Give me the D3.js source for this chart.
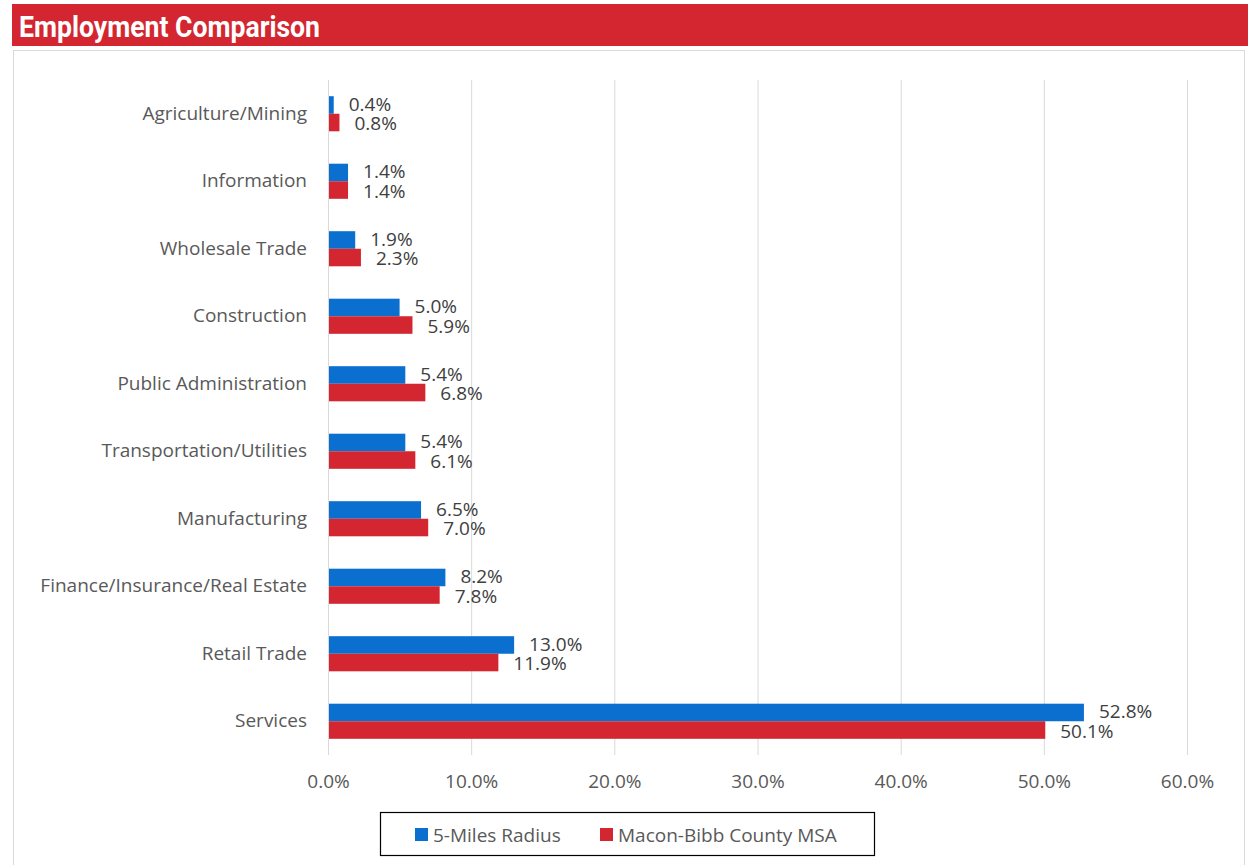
<!DOCTYPE html>
<html><head><meta charset="utf-8">
<script src="https://cdn.jsdelivr.net/npm/d3@7"></script>
<style>body{margin:0;background:#fff;}svg{display:block;}</style>
</head><body>
<svg id="c" width="1248" height="865"></svg>
<script>
const categories = ["Agriculture/Mining","Information","Wholesale Trade","Construction","Public Administration","Transportation/Utilities","Manufacturing","Finance/Insurance/Real Estate","Retail Trade","Services"];
const radius5 = [0.4,1.4,1.9,5.0,5.4,5.4,6.5,8.2,13.0,52.8];
const maconMSA = [0.8,1.4,2.3,5.9,6.8,6.1,7.0,7.8,11.9,50.1];
const seriesNames = ["5-Miles Radius","Macon-Bibb County MSA"];
const xTicks = [0,10,20,30,40,50,60];
const colors = ["#0A6FCF","#D32630"];

const svg = d3.select("#c");
const font = "'Open Sans', sans-serif";
const fs = 19;

// title bar
svg.append("rect").attr("x",12).attr("y",4).attr("width",1236).attr("height",42).attr("fill","#D32630");
svg.append("text").attr("x",19).attr("y",37).attr("fill","#fff")
  .attr("font-family","Roboto, sans-serif").attr("font-weight","bold").attr("font-size",30)
  .attr("textLength",301).attr("lengthAdjust","spacingAndGlyphs")
  .text("Employment Comparison");

// chart frame
svg.append("rect").attr("x",13.5).attr("y",50.5).attr("width",1231).attr("height",820)
  .attr("fill","none").attr("stroke","#d9d9d9").attr("stroke-width",1);

const x = d3.scaleLinear().domain([0,60]).range([328,1187]);
const y = d3.scaleBand().domain(categories).range([80,755]).paddingInner(0.48).paddingOuter(0.24);
const sub = d3.scaleBand().domain([0,1]).range([0,y.bandwidth()]);

// gridlines
svg.append("g").selectAll("line").data(xTicks).join("line")
  .attr("x1",d=>x(d)+0.5).attr("x2",d=>x(d)+0.5).attr("y1",80).attr("y2",755)
  .attr("stroke","#d9d9d9").attr("stroke-width",1);

// x axis labels
const xAxis = d3.axisBottom(x).tickValues(xTicks).tickFormat(d=>d.toFixed(1)+"%").tickSize(0).tickPadding(0);
const gx = svg.append("g").attr("transform","translate(0,771)").call(xAxis);
gx.select(".domain").remove();
gx.selectAll("text").attr("font-family",font).attr("font-size",fs).attr("fill","#595959").attr("dy","0.9em");

// y axis labels
const yAxis = d3.axisLeft(y).tickSize(0).tickPadding(21);
const gy = svg.append("g").attr("transform","translate(328,0)").call(yAxis);
gy.select(".domain").remove();
gy.selectAll("text").attr("font-family",font).attr("font-size",fs).attr("fill","#595959");

const series = [radius5, maconMSA];
series.forEach((vals,si)=>{
  const g = svg.append("g");
  g.selectAll("rect").data(vals).join("rect")
    .attr("x",x(0)).attr("y",(d,i)=>y(categories[i])+sub(si))
    .attr("width",d=>x(d)-x(0)).attr("height",sub.bandwidth())
    .attr("fill",colors[si]);
  g.selectAll("text").data(vals).join("text")
    .attr("x",d=>x(d)+15).attr("y",(d,i)=>y(categories[i])+sub(si)+sub.bandwidth()/2+(si?1:-1))
    .attr("dy","0.35em").attr("font-family",font).attr("font-size",fs).attr("fill","#404040")
    .text(d=>d.toFixed(1)+"%");
});

// vertical axis line at 0
svg.append("line").attr("x1",x(0)+0.5).attr("x2",x(0)+0.5).attr("y1",80).attr("y2",755).attr("stroke","#d9d9d9");

// legend
svg.append("rect").attr("x",380.5).attr("y",812.5).attr("width",494).attr("height",43)
  .attr("fill","#fff").attr("stroke","#000").attr("stroke-width",1.2);
const legX = [415,600];
seriesNames.forEach((n,i)=>{
  svg.append("rect").attr("x",legX[i]).attr("y",828).attr("width",13).attr("height",13).attr("fill",colors[i]);
  svg.append("text").attr("x",legX[i]+18).attr("y",835).attr("dy","0.35em")
    .attr("font-family",font).attr("font-size",fs).attr("fill","#595959").text(n);
});
</script>
</body></html>
